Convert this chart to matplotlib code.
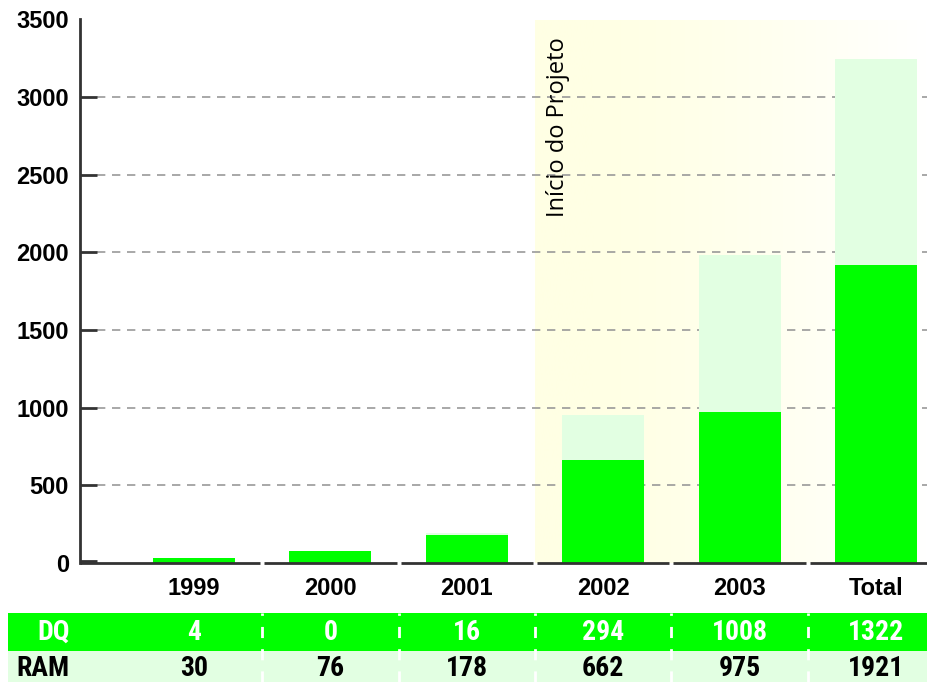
import numpy as np
import matplotlib
matplotlib.use("Agg")
import matplotlib.pyplot as plt
from matplotlib.patches import Rectangle
from matplotlib import font_manager as fm

# --- data -------------------------------------------------------------
categories = ["1999", "2000", "2001", "2002", "2003", "Total"]
dq_values = [4, 0, 16, 294, 1008, 1322]
ram_values = [30, 76, 178, 662, 975, 1921]
yticks = [0, 500, 1000, 1500, 2000, 2500, 3000, 3500]
project_label = "Início do Projeto"
project_start = 3          # index of the first category inside the project band

# --- styles -----------------------------------------------------------
GREEN = "#00FF00"
LIGHT_GREEN = "#E2FFE2"
BAND_YELLOW = np.array([255, 255, 228]) / 255.0
AXIS_COLOR = "#333333"
GRID_COLOR = "#999999"
BOLD = dict(family=["Liberation Sans", "DejaVu Sans"], weight="bold")


def narrow_bold(size):
    """Return a condensed bold font if one is installed, else plain bold."""
    def is_bold(f):
        w = f.weight
        return (isinstance(w, int) and w >= 600) or (isinstance(w, str) and "bold" in w)

    cands = []
    for f in fm.fontManager.ttflist:
        label = (f.name + " " + str(f.stretch) + " " + f.fname).lower()
        if not is_bold(f):
            continue
        if "narrow" in label or "condensed" in label:
            if "extra" in label or "ultra" in label or "semi" in label:
                rank = 3
            else:
                rank = 1
            if "italic" in f.fname.lower() or f.style != "normal":
                continue
            for pri, key in enumerate(["liberation", "roboto", "noto", "open", "dejavu"]):
                if key in label:
                    cands.append((rank, pri, f.fname))
                    break
    if cands:
        cands.sort()
        return fm.FontProperties(fname=cands[0][2], size=size)
    return fm.FontProperties(family="Liberation Sans", weight="bold", size=size * 0.85)


NARROW = narrow_bold(20)

W, H = 927, 682
fig = plt.figure(figsize=(W / 100, H / 100), dpi=100)

# pixel layout helpers
def fx(px):
    return px / W

def fy(py):
    return 1 - py / H

n = len(categories)
x = np.arange(n)
cat_px0, cat_step = 194.0, 136.4          # centre of first column and column pitch (px)
ax_left_px, ax_right_px = 80, W
xlim = ((ax_left_px - cat_px0) / cat_step, (ax_right_px - cat_px0) / cat_step)

ax = fig.add_axes([fx(ax_left_px), fy(563), fx(ax_right_px - ax_left_px), fy(19.5) - fy(563)])

# project band: pale yellow fading to white
band_x0 = project_start - 0.5
grad = np.linspace(0, 1, 256)
fade = np.clip((grad - 0.15) / 0.85, 0, 1) ** 1.3
img = np.ones((1, 256, 3))
for c in range(3):
    img[0, :, c] = BAND_YELLOW[c] + (1 - BAND_YELLOW[c]) * fade
ax.imshow(img, extent=(band_x0, xlim[1], 0, 3500), aspect="auto", zorder=0,
          interpolation="bilinear")
ax.set_xlim(*xlim)
ax.set_ylim(0, 3500)

# dashed grid lines from the end of the tick marks
tick_len_units = 17 / cat_step
for v in yticks[1:-1]:
    ax.plot([xlim[0] + tick_len_units, xlim[1]], [v, v], color=GRID_COLOR, lw=1.2,
            ls=(0, (5, 4)), zorder=1)
    ax.plot([xlim[0], xlim[0] + tick_len_units], [v, v], color=AXIS_COLOR, lw=2, zorder=3,
            solid_capstyle="butt")
ax.plot([xlim[0], xlim[0] + tick_len_units], [10, 10], color=AXIS_COLOR, lw=2, zorder=3,
        solid_capstyle="butt")

# stacked bars: RAM at the bottom, DQ on top
bar_w = 0.6
ax.bar(x, ram_values, width=bar_w, color=GREEN, zorder=2, linewidth=0)
ax.bar(x, dq_values, bottom=ram_values, width=bar_w, color=LIGHT_GREEN, zorder=2, linewidth=0)

# baseline broken at column boundaries
gap = 2 / cat_step
edges = [xlim[0]] + [i + 0.5 for i in range(n - 1)] + [xlim[1]]
for a, b in zip(edges[:-1], edges[1:]):
    a2 = a + (gap if a != xlim[0] else 0)
    b2 = b - (gap if b != xlim[1] else 0)
    ax.plot([a2, b2], [0, 0], color=AXIS_COLOR, lw=2, zorder=3, solid_capstyle="butt",
            clip_on=False)

for s in ["top", "right", "bottom"]:
    ax.spines[s].set_visible(False)
ax.spines["left"].set_linewidth(2)
ax.spines["left"].set_color(AXIS_COLOR)

ax.set_yticks(yticks)
ax.set_yticklabels([str(v) for v in yticks], fontsize=17, **BOLD)
ax.tick_params(axis="y", length=0, pad=8)
ax.set_xticks(x)
ax.set_xticklabels(categories, fontsize=17, **BOLD)
ax.tick_params(axis="x", length=0, pad=10)

ax.text(project_start - 0.5 + 23 / cat_step, 3500 - 18 / 0.1553, project_label,
        rotation=90, ha="center", va="top", fontsize=17, family="Open Sans", zorder=4)

# --- value table below the chart --------------------------------------
tab_left_px = 8
tx = fig.add_axes([fx(tab_left_px), 0, fx(W - tab_left_px), fy(613)])
x0t = (tab_left_px - cat_px0) / cat_step
tx.set_xlim(x0t, xlim[1])
tx.set_ylim(0, 69)
tx.axis("off")
tx.add_patch(Rectangle((x0t, 31), xlim[1] - x0t, 38, color=GREEN, lw=0))
tx.add_patch(Rectangle((x0t, 0), xlim[1] - x0t, 31, color=LIGHT_GREEN, lw=0))
for i in range(n - 1):
    tx.plot([i + 0.5, i + 0.5], [0, 69], color="white", lw=2, ls=(0, (4, 4)))

label_x = (70 - cat_px0) / cat_step
tx.text(label_x, 50, "DQ", color="white", ha="right", va="center", fontproperties=NARROW)
tx.text(label_x, 14, "RAM", color="black", ha="right", va="center", fontproperties=NARROW)
for i in range(n):
    tx.text(i, 50, str(dq_values[i]), color="white", ha="center", va="center",
            fontproperties=NARROW)
    tx.text(i, 14, str(ram_values[i]), color="black", ha="center", va="center",
            fontproperties=NARROW)

fig.savefig("out.png", dpi=100)
